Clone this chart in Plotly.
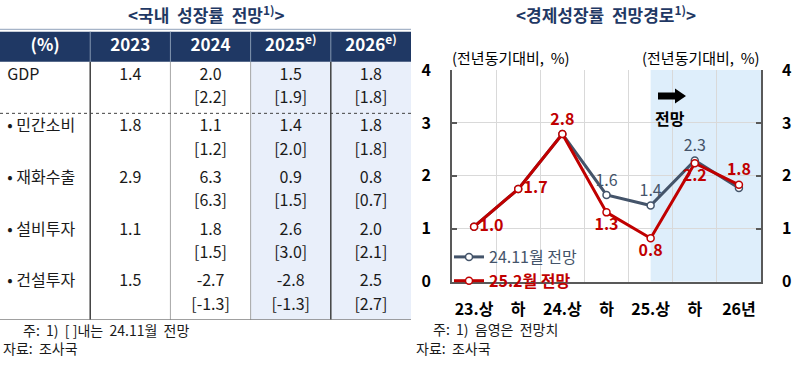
import plotly.graph_objects as go

# ---------------- data ----------------
table_title = "&lt;국내\u00a0 성장률\u00a0 전망<sup>1)</sup>&gt;"
chart_title = "&lt;경제성장률\u00a0 전망경로<sup>1)</sup>&gt;"
header_unit = "(%)"
years = ["2023", "2024", "2025<sup>e)</sup>", "2026<sup>e)</sup>"]
row_labels = ["GDP", "• 민간소비", "• 재화수출", "• 설비투자", "• 건설투자"]
val_2023 = [1.4, 1.8, 2.9, 1.1, 1.5]
val_2024 = [2.0, 1.1, 6.3, 1.8, -2.7]
prev_2024 = [2.2, 1.2, 6.3, 1.5, -1.3]
val_2025 = [1.5, 1.4, 0.9, 2.6, -2.8]
prev_2025 = [1.9, 2.0, 1.5, 3.0, -1.3]
val_2026 = [1.8, 1.8, 0.8, 2.0, 2.5]
prev_2026 = [1.8, 1.8, 0.7, 2.1, 2.7]
table_note = "주:\u00a0 1)\u00a0 [ ]내는\u00a0 24.11월\u00a0 전망"
source_note = "자료:\u00a0 조사국"

periods = ["23.상", "하", "24.상", "하", "25.상", "하", "26년"]
nov24 = [1.04, 1.75, 2.79, 1.64, 1.44, 2.29, 1.77]
feb25 = [1.04, 1.75, 2.79, 1.31, 0.82, 2.24, 1.83]
nov24_labels = ["", "", "", "1.6", "1.4", "2.3", ""]
feb25_labels = ["1.0", "1.7", "2.8", "1.3", "0.8", "2.2", "1.8"]
nov24_name = "24.11월 전망"
feb25_name = "25.2월 전망"
forecast_start = 4
axis_title = "(전년동기대비,\u00a0 %)"
forecast_text = "전망"
chart_note = "주:\u00a0 1)\u00a0 음영은\u00a0 전망치"

# ---------------- style ----------------
W, H = 800, 365
NAVY = "#1f3864"
RED = "#c00000"
GRAY = "#44546a"
FONT = "Noto Sans CJK KR"
AX = "#595959"
TXT = "#1a1a1a"


def px(xp):
    return xp / W


def py(yp):
    return 1 - yp / H


fig = go.Figure()

# ================= TABLE (hidden axes x2/y2) =================
XL, XR = -0.625, 4.5
HDR = -0.58
shapes = []
shapes.append(dict(type="rect", xref="x2", yref="y2", x0=2.5, x1=XR, y0=0, y1=5,
                   fillcolor="#e9effa", line=dict(width=0), layer="below"))
shapes.append(dict(type="rect", xref="x2", yref="y2", x0=XL, x1=XR, y0=HDR, y1=0,
                   fillcolor=NAVY, line=dict(width=0), layer="below"))
shapes.append(dict(type="line", xref="x2", yref="y2", x0=XL, x1=XR, y0=-0.625, y1=-0.625,
                   line=dict(color="#a6b4c8", width=1.5)))
for xv, col, w in [(0.5, "#404040", 1.5), (1.5, "#a6a6a6", 1), (2.5, "#a6a6a6", 1), (3.5, "#404040", 1.5)]:
    shapes.append(dict(type="line", xref="x2", yref="y2", x0=xv, x1=xv, y0=0, y1=5,
                       line=dict(color=col, width=w)))
    shapes.append(dict(type="line", xref="x2", yref="y2", x0=xv, x1=xv, y0=HDR, y1=0,
                       line=dict(color="#8497b0", width=1)))
shapes.append(dict(type="line", xref="x2", yref="y2", x0=XL, x1=XR, y0=1, y1=1,
                   line=dict(color="#404040", width=1, dash="dot")))
shapes.append(dict(type="line", xref="x2", yref="y2", x0=XL, x1=XR, y0=5, y1=5,
                   line=dict(color="#808080", width=1.5)))

fig.add_trace(go.Scatter(x=[(XL + 0.5) / 2, 1, 2, 3, 4], y=[HDR / 2] * 5,
                         text=[header_unit] + years, mode="text",
                         textfont=dict(color="white", size=17, family=FONT, weight="bold"),
                         xaxis="x2", yaxis="y2", showlegend=False, hoverinfo="skip", cliponaxis=False))
rows = list(range(len(row_labels)))
MAIN_OFF, PREV_OFF = 0.27, 0.72
fig.add_trace(go.Scatter(x=[-0.535] * len(rows), y=[r + MAIN_OFF for r in rows],
                         text=row_labels, mode="text", textposition="middle right",
                         textfont=dict(color=TXT, size=16, family=FONT),
                         xaxis="x2", yaxis="y2", showlegend=False, hoverinfo="skip", cliponaxis=False))
for ci, (vals, prevs) in enumerate([(val_2023, None), (val_2024, prev_2024),
                                    (val_2025, prev_2025), (val_2026, prev_2026)], start=1):
    fig.add_trace(go.Scatter(x=[ci] * len(vals), y=[r + MAIN_OFF for r in rows],
                             text=[f"{v:.1f}" for v in vals], mode="text",
                             textfont=dict(color=TXT, size=16, family=FONT),
                             xaxis="x2", yaxis="y2", showlegend=False, hoverinfo="skip", cliponaxis=False))
    if prevs is not None:
        fig.add_trace(go.Scatter(x=[ci] * len(prevs), y=[r + PREV_OFF for r in rows],
                                 text=[f"[{v:.1f}]" for v in prevs], mode="text",
                                 textfont=dict(color=TXT, size=16, family=FONT),
                                 xaxis="x2", yaxis="y2", showlegend=False, hoverinfo="skip", cliponaxis=False))

# ================= CHART =================
xs = list(range(len(periods)))
shapes.append(dict(type="rect", xref="x", yref="y", x0=forecast_start, x1=len(periods) - 0.5,
                   y0=0, y1=4, fillcolor="#deeefb", line=dict(width=0), layer="below"))
# forecast arrow (decoration)
shapes.append(dict(type="path", xref="paper", yref="paper", fillcolor="black", line=dict(width=0),
                   path=(f"M{px(658)},{py(92.5)} L{px(675)},{py(92.5)} L{px(675)},{py(88.5)} "
                         f"L{px(686)},{py(96)} L{px(675)},{py(103.5)} L{px(675)},{py(99.5)} "
                         f"L{px(658)},{py(99.5)} Z")))

fig.add_trace(go.Scatter(
    x=xs, y=nov24, mode="lines+markers",
    name=f"<span style='color:{GRAY}'>{nov24_name}</span>",
    line=dict(color=GRAY, width=3),
    marker=dict(symbol="circle", size=7, color="white", line=dict(color=GRAY, width=1.5)),
    hoverinfo="skip", cliponaxis=False))
fig.add_trace(go.Scatter(
    x=xs, y=feb25, mode="lines+markers+text",
    name=f"<span style='color:{RED}'><b>{feb25_name}</b></span>",
    line=dict(color=RED, width=3),
    marker=dict(symbol="circle", size=7, color="white", line=dict(color=RED, width=1.5)),
    text=feb25_labels,
    textposition=["middle right", "middle right", "top center", "bottom center",
                  "bottom center", "bottom center", "top center"],
    textfont=dict(color=RED, size=16, family=FONT, weight="bold"),
    hoverinfo="skip", cliponaxis=False))
lab_idx = [i for i, t in enumerate(nov24_labels) if t]
fig.add_trace(go.Scatter(
    x=[xs[i] for i in lab_idx], y=[nov24[i] for i in lab_idx], mode="markers+text",
    marker=dict(size=7, color="rgba(0,0,0,0)"),
    text=[nov24_labels[i] for i in lab_idx], textposition="top center",
    textfont=dict(color=GRAY, size=16, family=FONT),
    showlegend=False, hoverinfo="skip", cliponaxis=False))
fig.add_trace(go.Scatter(x=[None], y=[None], yaxis="y3", showlegend=False, hoverinfo="skip"))

ydom = [py(281.7), py(70)]
ytick = dict(range=[0, 4], tickvals=[0, 1, 2, 3, 4], showgrid=False, zeroline=False,
             showline=True, linecolor=AX, linewidth=1.5, ticks="inside", ticklen=5,
             tickwidth=1.5, tickcolor=AX, ticklabelstandoff=16, automargin=False,
             tickfont=dict(size=16, color="black", family=FONT, weight="bold"), fixedrange=True)


def note(text, x, y, anchor="left", size=14, color=TXT, bold=False):
    return dict(text=text, x=px(x), y=py(y), xref="paper", yref="paper", xanchor=anchor,
                yanchor="middle", showarrow=False,
                font=dict(size=size, color=color, family=FONT, weight="bold" if bold else "normal"))


annotations = [
    note(table_title, 206, 14, "center", 17, NAVY, True),
    note(chart_title, 606, 14, "center", 17, NAVY, True),
    note(axis_title, 450, 57, "left", 15, "black"),
    note(axis_title, 762, 57, "right", 15, "black"),
    note(table_note, 21, 330),
    note(source_note, 1, 348),
    note(chart_note, 431, 329),
    note(source_note, 414, 348),
    dict(text=forecast_text, x=4.43, y=3.09, xref="x", yref="y", showarrow=False,
         xanchor="center", yanchor="middle",
         font=dict(size=16, color="black", family=FONT, weight="bold")),
]

fig.update_layout(
    width=W, height=H, margin=dict(l=0, r=0, t=0, b=0, pad=0, autoexpand=False),
    autosize=False,
    paper_bgcolor="white", plot_bgcolor="rgba(0,0,0,0)",
    font=dict(family=FONT, size=14, color="black"),
    shapes=shapes, annotations=annotations,
    xaxis2=dict(domain=[0, px(411)], range=[XL, XR], visible=False, fixedrange=True, anchor="y2"),
    yaxis2=dict(domain=[py(320), py(28.6)], range=[5, -0.64], visible=False,
                fixedrange=True, anchor="x2"),
    xaxis=dict(domain=[px(452), px(761)], range=[-0.5, len(periods) - 0.5], tickvals=xs,
               ticktext=periods, showgrid=False, zeroline=False, showline=True, linecolor=AX,
               linewidth=1.5, ticks="", ticklabelstandoff=12, automargin=False,
               minor=dict(tickvals=[i + 0.5 for i in xs[:-1]], showgrid=True, gridcolor="#d9d9d9",
                          gridwidth=1, ticks=""),
               tickfont=dict(size=16, color="black", family=FONT, weight="bold"), fixedrange=True,
               anchor="y"),
    yaxis=dict(domain=ydom, anchor="x", side="left",
               minor=dict(tickvals=[1, 2, 3], showgrid=True, gridcolor="#d9d9d9", gridwidth=1, ticks=""),
               **ytick),
    yaxis3=dict(domain=ydom, anchor="x", overlaying="y", side="right", **ytick),
    legend=dict(x=px(449), y=py(240), xanchor="left", yanchor="top", bgcolor="rgba(0,0,0,0)",
                font=dict(size=16, family=FONT), itemwidth=30, tracegroupgap=0),
    showlegend=True,
)

fig.write_html("out.html", config={"displayModeBar": False},
               post_script="document.body.style.margin='0';")
